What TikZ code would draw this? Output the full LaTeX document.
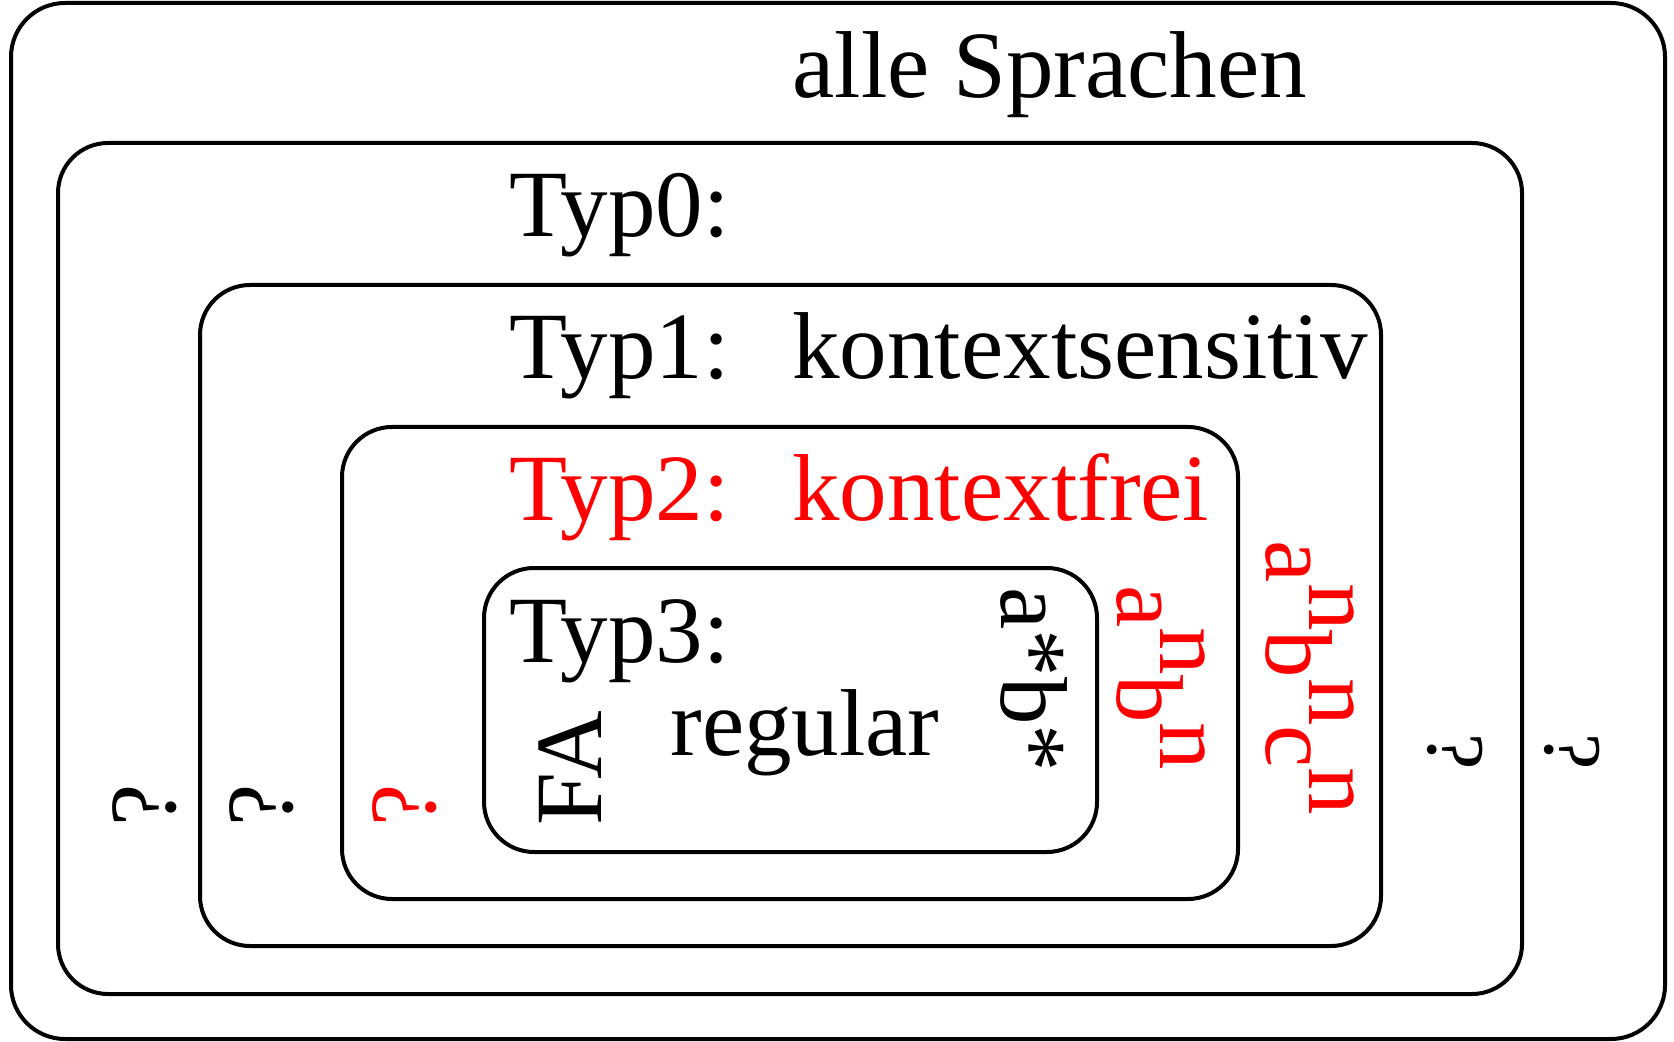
\documentclass[tikz,border=0pt]{standalone}
\usepackage{fontspec}
\setmainfont{Liberation Serif}
\newcommand{\hoch}[1]{\raisebox{0.45em}{#1}}

\begin{document}
\begin{tikzpicture}[x=0.5pt,y=-0.5pt,
  langbox/.style={line width=2pt,rounded corners=25pt},
  lbl/.style={inner sep=0pt,font=\fontsize{47.5}{52}\selectfont},
  lblleft/.style={lbl,anchor=base west},
  rot/.style={lbl,rotate=#1},
  small/.style={font=\fontsize{41}{45}\selectfont}]
  \useasboundingbox (0,0) rectangle (1674,1042);
  % nested classes of languages
  \draw[langbox,rounded corners=27pt] (11,3) rectangle (1665,1039);
  \foreach \xa/\ya/\xb/\yb in {58/143/1522/994,200/285/1381/946,342/427/1238/899,484/568/1097/852}{
    \draw[langbox] (\xa,\ya) rectangle (\xb,\yb);
  }

  \node[lblleft] (alle) at (792,98) {alle Sprachen};
  \node[lblleft] (typ0) at (509,237) {Typ0:};
  \node[lblleft] (typ1) at (509,379) {Typ1:};
  \node[lblleft] (ksens) at (792,379) {kontextsensitiv};
  \node[lblleft,red] (typ2) at (509,520) {Typ2:};
  \node[lblleft,red] (kfrei) at (792,520) {kontextfrei};
  \node[lblleft] (typ3) at (509,662) {Typ3:};
  \node[lblleft] (reg) at (670,755) {regular};

  % rotated examples
  \node[rot=90] (fa) at (570,768) {FA};
  \node[rot=-90] (astar) at (1034,680) {a*b*};
  \node[rot=-90,red] (anbn) at (1161,678) {a\hoch{n}b\hoch{n}};
  \node[rot=-90,red] (anbncn) at (1310,678) {a\hoch{n}b\hoch{n}c\hoch{n}};

  % open questions
  \node[rot=90] (qa) at (145,805) {?};
  \node[rot=90] (qb) at (262,805) {?};
  \node[rot=90,red] (qc) at (405,805) {?};
  \node[rot=-90,small] (qd) at (1455,752) {?};
  \node[rot=-90,small] (qe) at (1572,752) {?};
\end{tikzpicture}
\end{document}
